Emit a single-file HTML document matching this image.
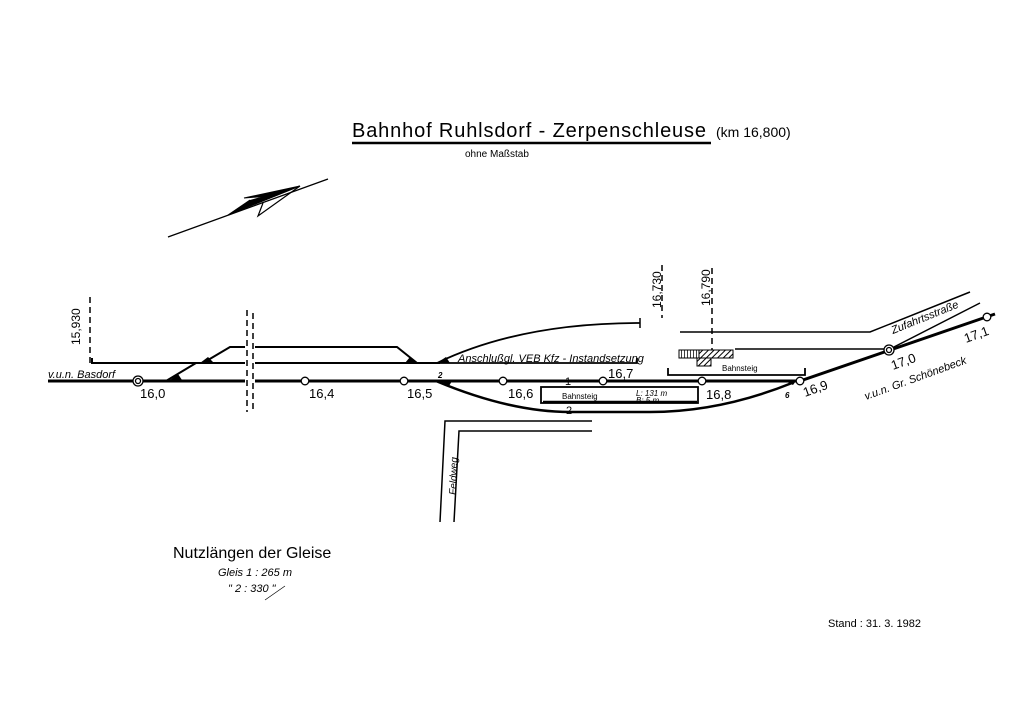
<!DOCTYPE html>
<html><head><meta charset="utf-8"><style>
html,body{margin:0;padding:0;background:#fff}
svg{display:block}
text{font-family:"Liberation Sans",sans-serif;fill:#000}
.i{font-style:italic}
</style></head><body>
<svg width="1024" height="724" viewBox="0 0 1024 724" xmlns="http://www.w3.org/2000/svg">
<defs>
<pattern id="h" width="4" height="4" patternUnits="userSpaceOnUse" patternTransform="rotate(45)"><rect width="4" height="4" fill="#fff"/><line x1="0" y1="0" x2="0" y2="4" stroke="#000" stroke-width="2"/></pattern>
<pattern id="v" width="3" height="4" patternUnits="userSpaceOnUse"><rect width="3" height="4" fill="#fff"/><line x1="0" y1="0" x2="0" y2="4" stroke="#000" stroke-width="1.5"/></pattern>
</defs>
<text x="352" y="137" font-size="20" textLength="354" lengthAdjust="spacing">Bahnhof  Ruhlsdorf - Zerpenschleuse</text>
<text x="716" y="137" font-size="14">(km 16,800)</text>
<line x1="352" y1="143" x2="711" y2="143" stroke="#000" stroke-width="2.5"/>
<text x="465" y="157" font-size="10">ohne Maßstab</text>
<line x1="168" y1="237" x2="328" y2="179" stroke="#000" stroke-width="1.3"/>
<path d="M244,198 L270,196 L300,186 L272,195 Z" fill="#000"/>
<path d="M244,198 L300,186 L270,196 Z M300,186 L228,215 L250,200" fill="#000" stroke="#000" stroke-width="1"/>
<path d="M300,186 L258,216 L263,203" fill="none" stroke="#000" stroke-width="1.2"/>
<g stroke="#000" fill="none">
<line x1="90" y1="297" x2="90" y2="363" stroke-width="1.5" stroke-dasharray="6,4"/>
<line x1="247" y1="310" x2="247" y2="412" stroke-width="1.5" stroke-dasharray="6,4"/>
<line x1="253" y1="313" x2="253" y2="412" stroke-width="1.5" stroke-dasharray="6,4"/>
<line x1="662" y1="265" x2="662" y2="318" stroke-width="1.5" stroke-dasharray="6,4"/>
<line x1="712" y1="268" x2="712" y2="352" stroke-width="1.5" stroke-dasharray="6,4"/>
<line x1="48" y1="381" x2="245" y2="381" stroke-width="3"/>
<path d="M255,381 L800,381 L995,314" stroke-width="3"/>
<path d="M92,358 L92,363 L245,363" stroke-width="2"/>
<line x1="255" y1="363" x2="440" y2="363" stroke-width="2"/>
<line x1="166" y1="381" x2="196" y2="363" stroke-width="2"/>
<path d="M203,363 L230,347 L245,347" stroke-width="2"/>
<path d="M255,347 L397,347 L417,363" stroke-width="2"/>
<path d="M437,363 L637,363 L637,358" stroke-width="1.8"/>
<path d="M437,363 Q520,323 640,323" stroke-width="1.8"/>
<line x1="640" y1="318" x2="640" y2="328" stroke-width="1.5"/>
<path d="M436,381 Q510,412 570,412 L650,412 Q720,412 792,383" stroke-width="2.5"/>
<rect x="541" y="387" width="157" height="16" stroke-width="1.8"/>
<line x1="543" y1="402" x2="697" y2="402" stroke-width="2.5"/>
<path d="M668,368 L668,375 L805,375 L805,368" stroke-width="1.8"/>
<path d="M680,332 L870,332 L970,292" stroke-width="1.5"/>
<path d="M735,349 L890,349 L980,303" stroke-width="1.5"/>
<path d="M440,522 L445,421 L592,421" stroke-width="1.5"/>
<path d="M454,522 L459,431 L592,431" stroke-width="1.5"/>
</g>
<rect x="679" y="350" width="20" height="8" fill="url(#v)" stroke="#000"/>
<rect x="699" y="350" width="34" height="8" fill="url(#h)" stroke="#000"/>
<rect x="697" y="358" width="14" height="8" fill="url(#h)" stroke="#000"/>
<g fill="#000">
<path d="M170,380 L178,374 L182,380Z"/><path d="M200,363 L208,357 L214,363Z"/>
<path d="M405,363 L410,357 L417,363Z"/><path d="M437,363 L446,357 L450,363Z"/>
<path d="M440,381 L452,381 L449,386Z"/><path d="M785,381 L796,381 L793,385Z"/>
</g>
<g fill="#fff" stroke="#000" stroke-width="1.3">
<circle cx="138" cy="381" r="5"/><circle cx="138" cy="381" r="2.5"/>
<circle cx="305" cy="381" r="3.8"/><circle cx="404" cy="381" r="3.8"/>
<circle cx="503" cy="381" r="3.8"/><circle cx="603" cy="381" r="3.8"/>
<circle cx="702" cy="381" r="3.8"/><circle cx="800" cy="381" r="3.8"/>
<circle cx="889" cy="350" r="5"/><circle cx="889" cy="350" r="2.5"/>
<circle cx="987" cy="317" r="3.8"/>
</g>
<g font-size="13">
<text x="140" y="398">16,0</text><text x="309" y="398">16,4</text>
<text x="407" y="398">16,5</text><text x="508" y="398">16,6</text>
<text x="608" y="378">16,7</text><text x="706" y="399">16,8</text>
<text x="805" y="397" transform="rotate(-20 805 397)">16,9</text>
<text x="893" y="370" transform="rotate(-20 893 370)">17,0</text>
<text x="966" y="343" transform="rotate(-20 966 343)">17,1</text>
</g>
<g font-size="12">
<text x="80" y="345" transform="rotate(-90 80 345)">15,930</text>
<text x="661" y="308" transform="rotate(-90 661 308)">16,730</text>
<text x="710" y="306" transform="rotate(-90 710 306)">16,790</text>
</g>
<text x="48" y="378" font-size="11" class="i">v.u.n. Basdorf</text>
<text x="458" y="362" font-size="11" class="i">Anschlußgl. VEB Kfz - Instandsetzung</text>
<text x="565" y="385" font-size="11">1</text>
<text x="566" y="414" font-size="11">2</text>
<text x="438" y="378" font-size="8" font-weight="bold" class="i">2</text>
<text x="785" y="398" font-size="8" font-weight="bold" class="i">6</text>
<text x="562" y="399" font-size="8">Bahnsteig</text>
<text x="636" y="396" font-size="8" class="i">L: 131 m</text>
<text x="636" y="403" font-size="8" class="i">B:  5 m</text>
<text x="722" y="371" font-size="8">Bahnsteig</text>
<text x="893" y="334" font-size="11" class="i" transform="rotate(-22 893 334)">Zufahrtsstraße</text>
<text x="866" y="400" font-size="11" class="i" transform="rotate(-20 866 400)">v.u.n. Gr. Schönebeck</text>
<text x="456" y="495" font-size="10" class="i" transform="rotate(-88 456 495)">Feldweg</text>
<text x="173" y="558" font-size="16">Nutzlängen  der Gleise</text>
<text x="218" y="576" font-size="11" class="i">Gleis  1 : 265 m</text>
<text x="228" y="592" font-size="11" class="i">"      2 : 330 "</text>
<line x1="265" y1="600" x2="285" y2="586" stroke="#000" stroke-width="0.7"/>
<text x="828" y="627" font-size="11">Stand :  31. 3. 1982</text>
</svg>
</body></html>
